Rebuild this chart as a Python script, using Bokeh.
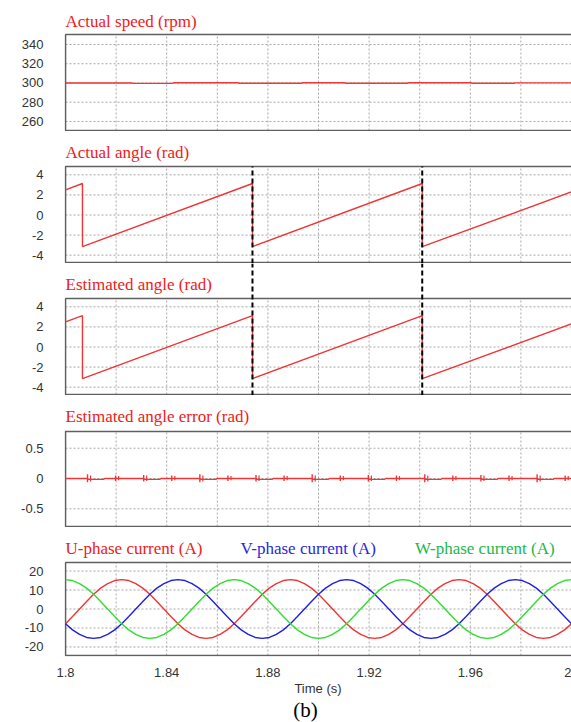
import numpy as np
from bokeh.plotting import figure
from bokeh.layouts import column
from bokeh.models import Range1d, FixedTicker, Label
from bokeh.core.properties import value
from bokeh.embed import file_html
from bokeh.resources import INLINE

# ---------------- data ----------------
speed_t = [1.800, 1.826, 1.827, 1.842, 1.843, 1.868, 1.869, 1.893, 1.894,
           1.910, 1.911, 1.935, 1.936, 1.960, 1.961, 1.977, 1.978, 2.000]
speed_v = [300.0, 300.0, 299.6, 299.6, 300.2, 300.2, 299.7, 299.7, 300.2,
           300.2, 299.7, 299.7, 300.2, 300.2, 299.7, 299.7, 300.1, 300.1]

angle_t = [1.8, 1.8067, 1.8067, 1.8739, 1.8739, 1.9410, 1.9410, 2.0]
angle_v = [2.5, 3.14, -3.14, 3.14, -3.14, 3.14, -3.14, 2.3]

est_t = [1.8, 1.8067, 1.8067, 1.8739, 1.8739, 1.9410, 1.9410, 2.0]
est_v = [2.5, 3.12, -3.14, 3.13, -3.14, 3.13, -3.14, 2.3]

cut_t = [1.8739, 1.9410]

err_t = [1.8, 1.8087, 1.8090, 1.8150, 1.8155, 1.8309, 1.8312, 1.8372, 1.8377,
         1.8531, 1.8534, 1.8594, 1.8599, 1.8753, 1.8756, 1.8816, 1.8821,
         1.8975, 1.8978, 1.9038, 1.9043, 1.9197, 1.9200, 1.9260, 1.9265,
         1.9420, 1.9423, 1.9483, 1.9488, 1.9642, 1.9645, 1.9705, 1.9710,
         1.9864, 1.9867, 1.9927, 1.9932, 2.0]
err_v = [0.0, 0.0, -0.015, -0.015, 0.0, 0.0, -0.015, -0.015, 0.0,
         0.0, -0.015, -0.015, 0.0, 0.0, -0.015, -0.015, 0.0,
         0.0, -0.015, -0.015, 0.0, 0.0, -0.015, -0.015, 0.0,
         0.0, -0.015, -0.015, 0.0, 0.0, -0.015, -0.015, 0.0,
         0.0, -0.015, -0.015, 0.0, 0.0]

spike_t = [1.8087, 1.8198, 1.8309, 1.8420, 1.8531, 1.8642, 1.8753, 1.8864, 1.8975,
           1.9086, 1.9197, 1.9308, 1.9420, 1.9531, 1.9642, 1.9753, 1.9864, 1.9975]
spike_hi = [0.07, 0.05, 0.06, 0.05, 0.07, 0.05, 0.06, 0.05, 0.07,
            0.05, 0.06, 0.05, 0.07, 0.05, 0.06, 0.05, 0.07, 0.05]
spike_lo = [-0.06, -0.04, -0.05, -0.04, -0.06, -0.04, -0.05, -0.04, -0.06,
            -0.04, -0.05, -0.04, -0.06, -0.04, -0.05, -0.04, -0.06, -0.04]
spike2_t = [1.8099, 1.8210, 1.8321, 1.8432, 1.8543, 1.8654, 1.8765, 1.8876, 1.8987,
            1.9098, 1.9209, 1.9320, 1.9432, 1.9543, 1.9654, 1.9765, 1.9876, 1.9987]
spike2_hi = [0.05, 0.04, 0.05, 0.04, 0.05, 0.04, 0.05, 0.04, 0.05,
             0.04, 0.05, 0.04, 0.05, 0.04, 0.05, 0.04, 0.05, 0.04]
spike2_lo = [-0.05, -0.03, -0.04, -0.03, -0.05, -0.03, -0.04, -0.03, -0.05,
             -0.03, -0.04, -0.03, -0.05, -0.03, -0.04, -0.03, -0.05, -0.03]

cur_t = np.linspace(1.8, 2.0, 73)
u_cur = [-7.8, -4.0, 0.0, 4.0, 7.8, 11.0, 13.4, 15.0, 15.5, 15.0, 13.4, 11.0,
         7.8, 4.0, 0.0, -4.0, -7.8, -11.0, -13.4, -15.0, -15.5, -15.0, -13.4, -11.0,
         -7.8, -4.0, 0.0, 4.0, 7.8, 11.0, 13.4, 15.0, 15.5, 15.0, 13.4, 11.0,
         7.8, 4.0, 0.0, -4.0, -7.8, -11.0, -13.4, -15.0, -15.5, -15.0, -13.4, -11.0,
         -7.8, -4.0, 0.0, 4.0, 7.8, 11.0, 13.4, 15.0, 15.5, 15.0, 13.4, 11.0,
         7.8, 4.0, 0.0, -4.0, -7.8, -11.0, -13.4, -15.0, -15.5, -15.0, -13.4, -11.0,
         -7.8]
v_cur = [-7.8, -11.0, -13.4, -15.0, -15.5, -15.0, -13.4, -11.0, -7.8, -4.0, 0.0, 4.0,
         7.8, 11.0, 13.4, 15.0, 15.5, 15.0, 13.4, 11.0, 7.8, 4.0, 0.0, -4.0,
         -7.8, -11.0, -13.4, -15.0, -15.5, -15.0, -13.4, -11.0, -7.8, -4.0, 0.0, 4.0,
         7.8, 11.0, 13.4, 15.0, 15.5, 15.0, 13.4, 11.0, 7.8, 4.0, 0.0, -4.0,
         -7.8, -11.0, -13.4, -15.0, -15.5, -15.0, -13.4, -11.0, -7.8, -4.0, 0.0, 4.0,
         7.8, 11.0, 13.4, 15.0, 15.5, 15.0, 13.4, 11.0, 7.8, 4.0, 0.0, -4.0,
         -7.8]
w_cur = [15.5, 15.0, 13.4, 11.0, 7.8, 4.0, 0.0, -4.0, -7.8, -11.0, -13.4, -15.0,
         -15.5, -15.0, -13.4, -11.0, -7.8, -4.0, 0.0, 4.0, 7.8, 11.0, 13.4, 15.0,
         15.5, 15.0, 13.4, 11.0, 7.8, 4.0, 0.0, -4.0, -7.8, -11.0, -13.4, -15.0,
         -15.5, -15.0, -13.4, -11.0, -7.8, -4.0, 0.0, 4.0, 7.8, 11.0, 13.4, 15.0,
         15.5, 15.0, 13.4, 11.0, 7.8, 4.0, 0.0, -4.0, -7.8, -11.0, -13.4, -15.0,
         -15.5, -15.0, -13.4, -11.0, -7.8, -4.0, 0.0, 4.0, 7.8, 11.0, 13.4, 15.0,
         15.5]

x_grid = [1.82, 1.84, 1.86, 1.88, 1.90, 1.92, 1.94, 1.96, 1.98]
x_ticks = [1.8, 1.84, 1.88, 1.92, 1.96, 2.0]
x_tick_labels = ["1.8", "1.84", "1.88", "1.92", "1.96", "2"]
speed_ticks = [260, 280, 300, 320, 340]
speed_tick_labels = ["260", "280", "300", "320", "340"]
angle_ticks = [-4, -2, 0, 2, 4]
angle_tick_labels = ["-4", "-2", "0", "2", "4"]
err_ticks = [-0.5, 0, 0.5]
err_tick_labels = ["-0.5", "0", "0.5"]
cur_ticks = [-20, -10, 0, 10, 20]
cur_tick_labels = ["-20", "-10", "0", "10", "20"]

# ---------------- styling ----------------
RED_T = "#ee2020"
RED_L = "#f03535"
BLUE_T = "#2a2ad8"
BLUE_L = "#2020e0"
GREEN_T = "#22b848"
GREEN_L = "#30dd30"
GRID = "#a8a8a8"
BOX = "#606060"
TICK_TXT = "#333333"
SERIF = "Liberation Serif"
SANS = "Liberation Sans"

W = 571
LEFT = 64
XS, XE = 1.7996, 2.0
XL, XR = 1.8, 2.0


def panel(zone, box_h, lo, hi, ticks, labels, pad=1, bottom=0):
    upp = (hi - lo) / box_h
    y0 = lo - pad * upp
    y1 = hi + zone * upp
    h = zone + box_h + pad + bottom
    p = figure(width=W, height=h, x_range=Range1d(XS, XE), y_range=Range1d(y0, y1),
               output_backend="svg", toolbar_location=None, title_location=None,
               min_border_left=LEFT, min_border_right=0, min_border_top=0,
               min_border_bottom=bottom,
               x_axis_location=("below" if bottom else None))
    p.outline_line_color = None
    p.background_fill_color = "white"
    p.border_fill_color = "white"
    p.grid.visible = False
    yax = p.yaxis[0]
    yax.ticker = FixedTicker(ticks=ticks)
    yax.major_label_overrides = {t: s for t, s in zip(ticks, labels)}
    yax.axis_line_color = None
    yax.major_tick_line_color = None
    yax.minor_tick_line_color = None
    yax.major_label_standoff = 15
    yax.major_label_text_font = SANS
    yax.major_label_text_font_size = "13px"
    yax.major_label_text_color = TICK_TXT
    n = len(x_grid)
    p.segment(x0=x_grid, y0=[lo] * n, x1=x_grid, y1=[hi] * n,
              line_color=GRID, line_width=1, line_dash="2 2")
    m = len(ticks)
    p.segment(x0=[XL] * m, y0=ticks, x1=[XR] * m, y1=ticks,
              line_color=GRID, line_width=1, line_dash="2 2")
    p.line([XR, XL, XL, XR], [hi, hi, lo, lo], line_color=BOX, line_width=1.6)
    return p, upp, y0, y1


def title(p, x, y, text, color, size="17px", align="left"):
    p.add_layout(Label(x=x, y=y, text=text, text_font=SERIF, text_font_size=size,
                       text_color=color, text_baseline="middle", text_align=align))


# Panel 1: actual speed
p1, u1, a1, b1 = panel(34, 96, 250.6, 350.4, speed_ticks, speed_tick_labels)
p1.line(speed_t, speed_v, line_color=RED_L, line_width=1.4)
title(p1, XL, 350.4 + 13.5 * u1, "Actual speed (rpm)", RED_T)

# Panel 2: actual angle
p2, u2, a2, b2 = panel(35, 96, -4.73, 4.83, angle_ticks, angle_tick_labels)
p2.line(angle_t, angle_v, line_color=RED_L, line_width=1.4)
p2.segment(x0=cut_t, y0=[a2] * 2, x1=cut_t, y1=[4.83] * 2,
           line_color="black", line_width=2, line_dash="5 3")
title(p2, XL, 4.83 + 14 * u2, "Actual angle (rad)", RED_T)

# Panel 3: estimated angle
p3, u3, a3, b3 = panel(35, 96, -4.73, 4.83, angle_ticks, angle_tick_labels)
p3.line(est_t, est_v, line_color=RED_L, line_width=1.4)
p3.segment(x0=cut_t, y0=[a3] * 2, x1=cut_t, y1=[b3] * 2,
           line_color="black", line_width=2, line_dash="5 3")
title(p3, XL, 4.83 + 14 * u3, "Estimated angle (rad)", RED_T)

# Panel 4: estimated angle error
p4, u4, a4, b4 = panel(36, 95, -0.792, 0.776, err_ticks, err_tick_labels)
p4.line(err_t, err_v, line_color=RED_L, line_width=1.4)
p4.segment(x0=spike_t, y0=spike_lo, x1=spike_t, y1=spike_hi,
           line_color=RED_L, line_width=1.4)
p4.segment(x0=spike2_t, y0=spike2_lo, x1=spike2_t, y1=spike2_hi,
           line_color=RED_L, line_width=1.2)
title(p4, XL, 0.776 + 15 * u4, "Estimated angle error (rad)", RED_T)

# Panel 5: phase currents
p5, u5, a5, b5 = panel(35, 93, -24.5, 24.5, cur_ticks, cur_tick_labels, bottom=42)
p5.line(cur_t, u_cur, line_color=RED_L, line_width=1.4)
p5.line(cur_t, v_cur, line_color=BLUE_L, line_width=1.4)
p5.line(cur_t, w_cur, line_color=GREEN_L, line_width=1.4)
ty = 24.5 + 14 * u5
title(p5, XL, ty, "U-phase current (A)", RED_T)
title(p5, 1.8692, ty, "V-phase current (A)", BLUE_T)
title(p5, 1.9381, ty, "W-phase current (A)", GREEN_T)

xax = p5.xaxis[0]
xax.ticker = FixedTicker(ticks=x_ticks)
xax.major_label_overrides = {t: s for t, s in zip(x_ticks, x_tick_labels)}
xax.axis_line_color = None
xax.major_tick_line_color = None
xax.minor_tick_line_color = None
xax.major_label_standoff = 5
xax.major_label_text_font = SANS
xax.major_label_text_font_size = "13px"
xax.major_label_text_color = TICK_TXT
xax.axis_label = "Time (s)"
xax.axis_label_text_font = SANS
xax.axis_label_text_font_size = "13px"
xax.axis_label_text_font_style = "normal"
xax.axis_label_text_color = TICK_TXT
xax.axis_label_standoff = 1

# caption strip "(b)"
cap = figure(width=W, height=24, x_range=Range1d(XS, XE), y_range=Range1d(0, 24),
             output_backend="svg", toolbar_location=None, title_location=None,
             min_border_left=LEFT, min_border_right=0, min_border_top=0,
             min_border_bottom=0, x_axis_location=None, y_axis_location=None)
cap.outline_line_color = None
cap.grid.visible = False
cap.text(x=[1.8949], y=[13], text=["(b)"], text_font=value(SERIF),
         text_font_size="21px", text_color="black",
         text_align="center", text_baseline="middle")

layout = column(p1, p2, p3, p4, p5, cap, spacing=0)
open("out.html", "w").write(file_html(layout, INLINE))
